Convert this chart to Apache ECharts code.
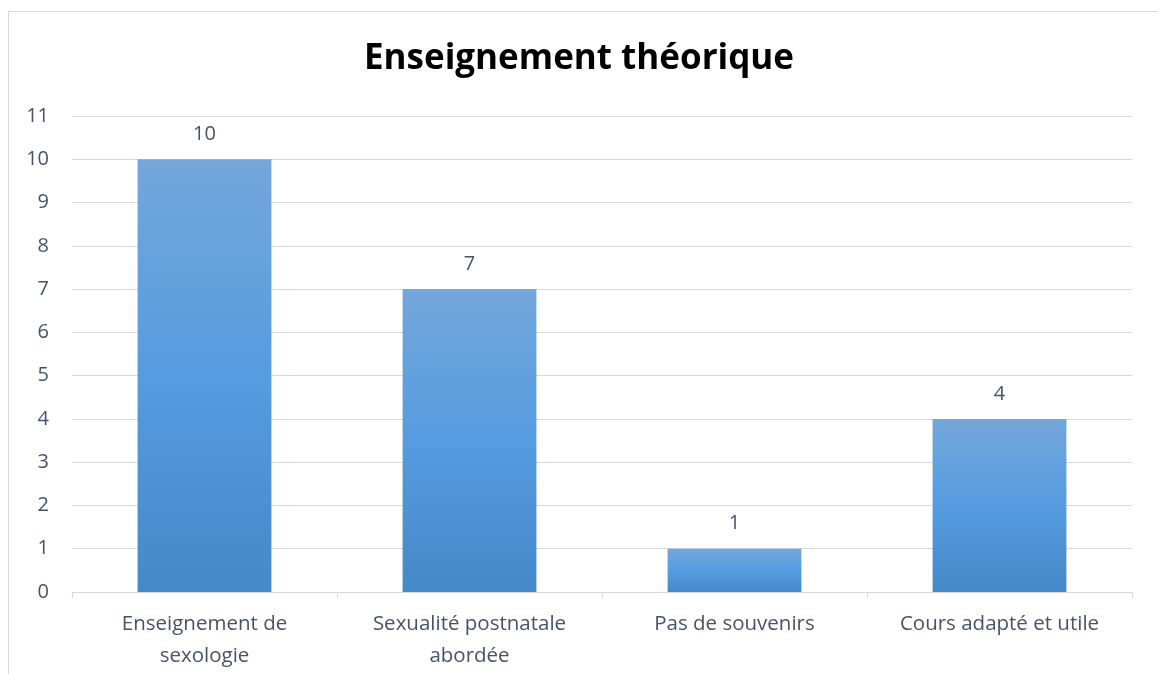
<!DOCTYPE html>
<html><head><meta charset="utf-8">
<script src="https://cdn.jsdelivr.net/npm/echarts@6/dist/echarts.min.js"></script>
<style>html,body{margin:0;padding:0;background:#fff}#c{width:1158px;height:674px}</style>
</head><body><div id="c"></div>
<script>
const categories = ["Enseignement de\nsexologie", "Sexualité postnatale\nabordée", "Pas de souvenirs", "Cours adapté et utile"];
const values = [10, 7, 1, 4];
const yTicks = { min: 0, max: 11, interval: 1 };
const title = "Enseignement théorique";

const chart = echarts.init(document.getElementById('c'));
const font = '"Open Sans", sans-serif';
chart.setOption({
  animation: false,
  graphic: [{ type: 'rect', shape: { x: 8.5, y: 11.5, width: 1160, height: 700 }, style: { fill: 'none', stroke: '#d9d9d9', lineWidth: 1 }, z: -1 }],
  title: { text: title, left: 'center', top: 37, textStyle: { fontFamily: font, fontWeight: 'bold', fontSize: 35, color: '#000' } },
  grid: { left: 72, right: 26, top: 116, bottom: 82, containLabel: false },
  xAxis: {
    type: 'category', data: categories,
    axisLine: { lineStyle: { color: '#d9d9d9', width: 1 } },
    axisTick: { show: true, length: 6, lineStyle: { color: '#d9d9d9' } },
    axisLabel: { fontFamily: font, fontSize: 20.5, color: '#44546a', margin: 16, lineHeight: 32, interval: 0 }
  },
  yAxis: {
    type: 'value', min: yTicks.min, max: yTicks.max, interval: yTicks.interval,
    axisLine: { show: false }, axisTick: { show: false },
    splitLine: { lineStyle: { color: '#d9d9d9', width: 1 } },
    axisLabel: { fontFamily: font, fontSize: 20, color: '#44546a', margin: 23 }
  },
  series: [{
    type: 'bar', data: values, barWidth: '50.5%',
    itemStyle: { color: new echarts.graphic.LinearGradient(0, 0, 0, 1, [
      { offset: 0, color: '#74a7db' }, { offset: 0.5, color: '#559ce0' }, { offset: 1, color: '#4489c9' }
    ]) },
    label: { show: true, position: 'top', distance: 15, fontFamily: font, fontSize: 20, color: '#44546a' }
  }]
});
</script></body></html>
